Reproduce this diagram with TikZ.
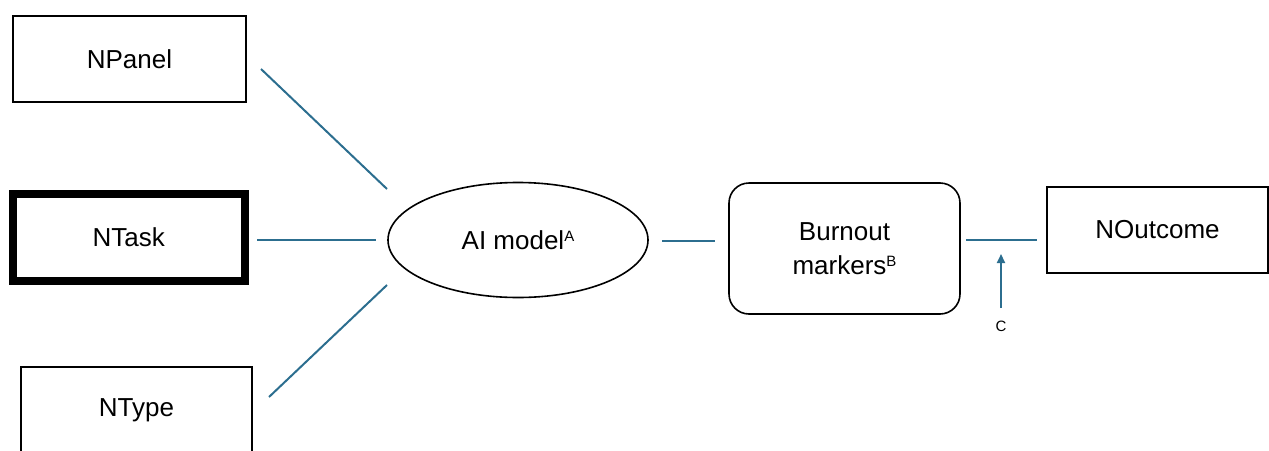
\documentclass[tikz,border=0pt]{standalone}
\usepackage{fontspec}
\setmainfont{Liberation Sans}
\usetikzlibrary{shapes.geometric,arrows.meta}
\definecolor{linkblue}{RGB}{44,110,143}
\newcommand{\supmark}[1]{{\fontsize{15}{18}\selectfont\raisebox{7.5pt}{#1}}}
\tikzset{
  box/.style={draw=black,line width=1.6pt,minimum width=233pt,minimum height=86pt,inner sep=0pt,font=\fontsize{26}{30}\selectfont},
  link/.style={draw=linkblue,line width=2pt},
}
\begin{document}
\begin{tikzpicture}[x=1pt,y=-1pt]
\useasboundingbox (0,0) rectangle (1269,450);
\clip (0,0) rectangle (1269,450);

%inputs%%%%%%%%%%%%%%%%%%%%%%%%%%%%%%%%%%%%%%%%%%%%%%%%%%%%%%
\node[box] (panel) at (129.5,59) {NPanel};
\node[box,line width=8pt,minimum width=231.5pt,minimum height=87.5pt] (task) at (128.75,237.25) {NTask};
\node[box,minimum width=231pt] (type) at (136.5,410) {NType};

%model and markers%%%%%%%%%%%%%%%%%%%%%%%%%%%%%%%%%%%%%%%%%%%%
\node[draw,ellipse,line width=1.6pt,minimum width=260pt,minimum height=115pt,inner sep=0pt,font=\fontsize{26}{30}\selectfont] (model) at (518,240) {AI model\supmark{A}};
\node[box,rounded corners=20pt,minimum width=231pt,minimum height=131pt,align=center,font=\fontsize{26}{34}\selectfont] (markers) at (844.5,248.5) {Burnout\\markers\supmark{B}};

%outcome%%%%%%%%%%%%%%%%%%%%%%%%%%%%%%%%%%%%%%%%%%%%%%%%%%%%%%
\node[box,minimum width=221pt] (outcome) at (1157.5,230) {NOutcome};
\node[font=\fontsize{15}{18}\selectfont] (lblC) at (1001,326) {C};

%link ends
\coordinate (p1) at (261,69);
\coordinate (p2) at (387,189);
\coordinate (t1) at (257,240);
\coordinate (t2) at (376,240);
\coordinate (y1) at (269,397);
\coordinate (y2) at (387,285);
\coordinate (m1) at (662,241);
\coordinate (m2) at (715,241);
\coordinate (o1) at (966,240);
\coordinate (o2) at (1037,240);
\coordinate (tipC) at (1001,254);

\draw[link] (p1) -- (p2); %panel
\draw[link] (t1) -- (t2); %task
\draw[link] (y1) -- (y2); %type
\draw[link] (m1) -- (m2); %model
\draw[link] (o1) -- (o2); %outcome
\draw[link,-{Triangle[length=9pt,width=8pt]},shorten <=9pt] (lblC) -- (tipC); %C

\end{tikzpicture}
\end{document}
